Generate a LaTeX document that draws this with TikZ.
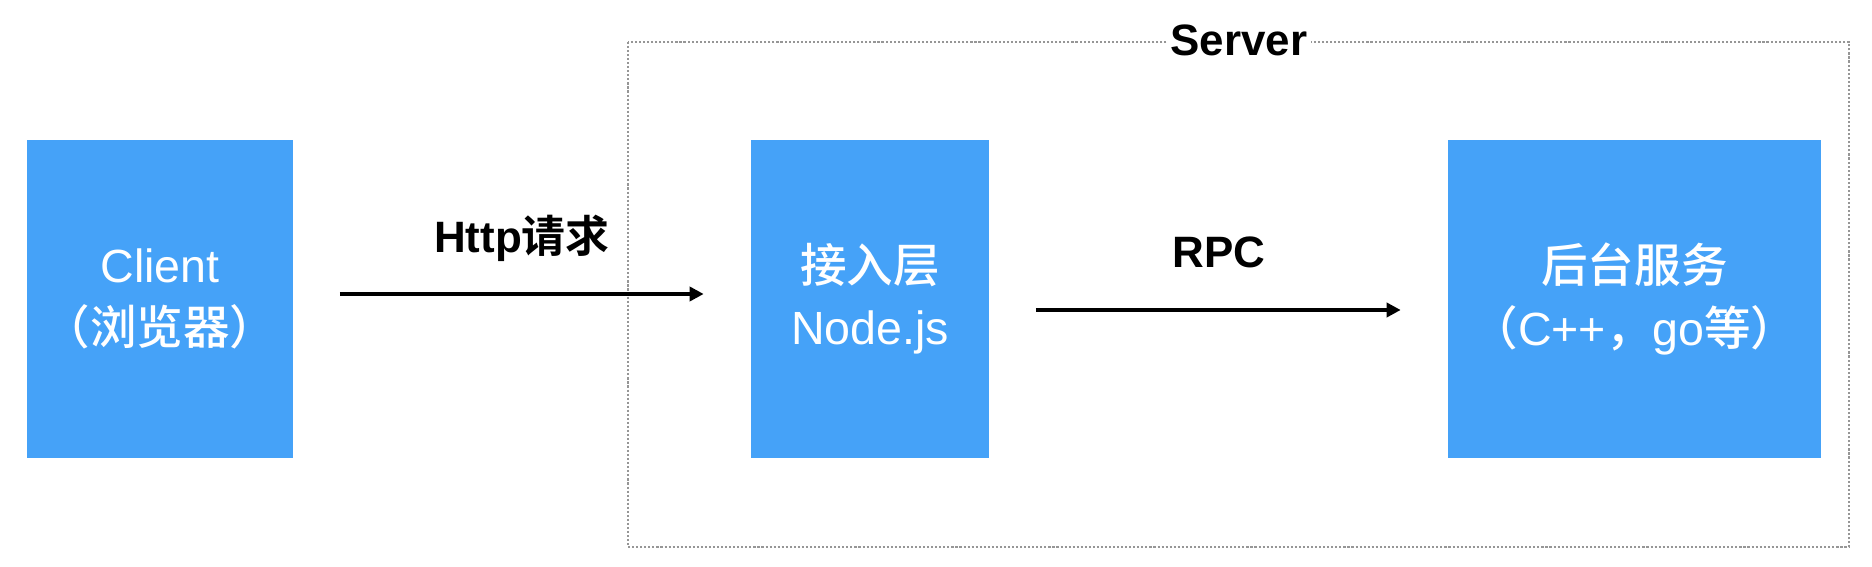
\documentclass[tikz,border=0pt]{standalone}
\usepackage{fontspec}
\setmainfont{Liberation Sans}
\newfontfamily\cjk{Noto Sans CJK SC}[UprightFont=* Medium, BoldFont=* Bold]
\usetikzlibrary{arrows, arrows.meta}

\definecolor{boxblue}{RGB}{69,162,248}
\definecolor{framegray}{RGB}{150,150,150}

\tikzset{
  svcbox/.style={fill=boxblue, text=white, inner sep=0pt, align=center,
    minimum height=6.36cm, font=\fontsize{26.5}{35.5}\selectfont},
  lbl/.style={font=\fontsize{25}{30}\selectfont\bfseries, inner sep=2pt},
  reqline/.style={line width=2.1pt, ->, shorten <=0.93cm, shorten >=0.94cm},
}

\begin{document}
\begin{tikzpicture}[>={Triangle[length=8pt, width=8pt]}, x=.02cm, y=-.02cm]

%\draw[step=1cm,color=gray!80] (0,0) grid (1872,567);
\useasboundingbox (0,0) rectangle (1872,567);

\draw[framegray, line width=1.1pt, dash pattern=on 1.2pt off 1.1pt] (628,42) rectangle (1849,547);
\node[lbl, fill=white] (server) at (1239,40) {Server};

\node[svcbox, minimum width=5.32cm] (client) at (160,299) {Client\\{\cjk （浏览器）}};
\node[svcbox, minimum width=4.76cm] (nodejs) at (870,299) {{\cjk 接入层}\\Node.js};
\node[svcbox, minimum width=7.46cm] (backend) at (1634.5,299) {{\cjk 后台服务}\\{\cjk （}C++{\cjk ，}go{\cjk 等）}};

\node[lbl] (http) at (522,238) {Http{\cjk 请求}};
\node[lbl] (rpc) at (1219,252) {RPC};

\draw[reqline] (client.east |- 0,294) -- (nodejs.west |- 0,294);
\draw[reqline] (nodejs.east |- 0,310) -- (backend.west |- 0,310);

\end{tikzpicture}
\end{document}
